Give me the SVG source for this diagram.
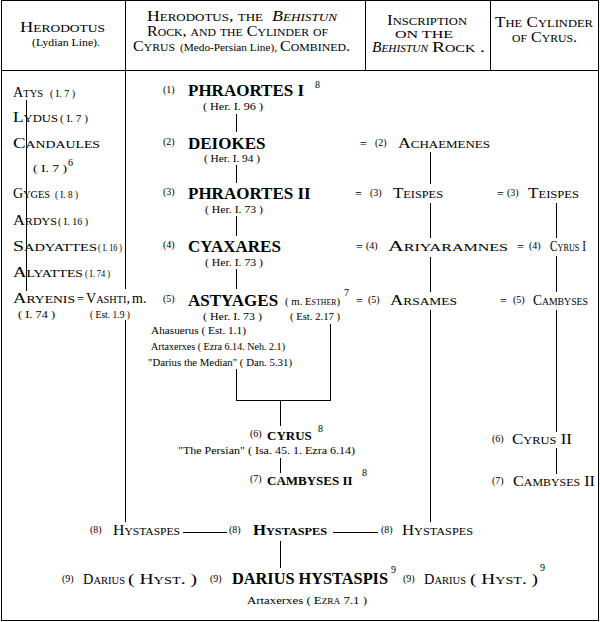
<svg xmlns="http://www.w3.org/2000/svg" width="600" height="622" viewBox="0 0 600 622">
<style>
text{font-family:"Liberation Serif","Times New Roman",serif;fill:#000}
.sc{font-size:15px;font-variant:small-caps}
.it{font-style:italic}
.b{font-size:17px;font-weight:bold}
.b13{font-size:13px;font-weight:bold}
.b16{font-size:16px;font-weight:bold}
.bsc{font-size:15px;font-weight:bold;font-variant:small-caps}
.n{font-size:10px}
.c{font-size:11px}
.sup{font-size:10px}
.eq{font-size:12px}
.ln{fill:none;stroke:#000;stroke-width:1;shape-rendering:crispEdges}
</style>
<rect x="1.5" y="0.5" width="597" height="620" fill="#fff" stroke="#000" stroke-width="1" shape-rendering="crispEdges"/>

<g id="connectors" class="ln">
<path class="ln" d="M0.5 70.5H598.5M125.5 0V289M365.5 0V70M490.5 0V70"/>
<path class="ln" d="M26.5 100V291M125.5 320V522"/>
<path class="ln" d="M236.5 114V132M236.5 165V183M236.5 216V236M236.5 269V289M236.5 369V400.5H330.5V324M280.5 400V426M280.5 458V473"/>
<path class="ln" d="M430.5 152V184M430.5 203V238M430.5 257V292M430.5 310V522"/>
<path class="ln" d="M556.5 203V238M556.5 256V292M556.5 310V432M556.5 448V474"/>
<path class="ln" d="M183 532.5H227M333 532.5H378M280.5 541V568"/>
</g>

<g id="header">
<text class="sc" x="20" y="32" textLength="85" lengthAdjust="spacingAndGlyphs">Herodotus</text>
<text class="c" x="32" y="46" textLength="68" lengthAdjust="spacingAndGlyphs">(Lydian Line).</text>
<text class="sc" x="147" y="21" textLength="116" lengthAdjust="spacingAndGlyphs">Herodotus, the</text>
<text class="sc it" x="272" y="21" textLength="65" lengthAdjust="spacingAndGlyphs">Behistun</text>
<text class="sc" x="147" y="36" textLength="181" lengthAdjust="spacingAndGlyphs">Rock, and the Cylinder of</text>
<text class="sc" x="133" y="51" textLength="42" lengthAdjust="spacingAndGlyphs">Cyrus</text>
<text class="c" x="180" y="51" textLength="97" lengthAdjust="spacingAndGlyphs">(Medo-Persian Line),</text>
<text class="sc" x="280" y="51" textLength="70" lengthAdjust="spacingAndGlyphs">Combined.</text>
<text class="sc" x="387" y="25" textLength="80" lengthAdjust="spacingAndGlyphs">Inscription</text>
<text x="395" y="38" font-size="10.5" textLength="58" lengthAdjust="spacingAndGlyphs">ON THE</text>
<text class="sc it" x="372" y="52" textLength="56" lengthAdjust="spacingAndGlyphs">Behistun</text>
<text class="sc" x="432" y="52" textLength="53" lengthAdjust="spacingAndGlyphs">Rock .</text>
<text class="sc" x="495" y="27" textLength="98" lengthAdjust="spacingAndGlyphs">The Cylinder</text>
<text class="sc" x="512" y="42" textLength="65" lengthAdjust="spacingAndGlyphs">of Cyrus.</text>
</g>

<g id="atys"><text class="sc" x="13" y="97" textLength="30" lengthAdjust="spacingAndGlyphs">Atys</text><text class="c" x="50" y="97" textLength="25" lengthAdjust="spacingAndGlyphs">( I. 7 )</text></g>
<g id="lydus"><text class="sc" x="13" y="122" textLength="45" lengthAdjust="spacingAndGlyphs">Lydus</text><text class="c" x="60" y="122" textLength="28" lengthAdjust="spacingAndGlyphs">( I. 7 )</text></g>
<g id="candaules"><text class="sc" x="13" y="148" textLength="87" lengthAdjust="spacingAndGlyphs">Candaules</text><text class="c" x="33" y="172" textLength="34" lengthAdjust="spacingAndGlyphs">( I. 7 )</text><text class="sup" x="68" y="166">6</text></g>
<g id="gyges"><text class="sc" x="13" y="198" textLength="37" lengthAdjust="spacingAndGlyphs">Gyges</text><text class="c" x="55" y="198" textLength="23" lengthAdjust="spacingAndGlyphs">( I. 8 )</text></g>
<g id="ardys"><text class="sc" x="13" y="225" textLength="44" lengthAdjust="spacingAndGlyphs">Ardys</text><text class="c" x="58" y="225" textLength="30" lengthAdjust="spacingAndGlyphs">( I. 16 )</text></g>
<g id="sadyattes"><text class="sc" x="13" y="251" textLength="84" lengthAdjust="spacingAndGlyphs">Sadyattes</text><text class="c" x="98" y="251" textLength="24" lengthAdjust="spacingAndGlyphs">( I. 16 )</text></g>
<g id="alyattes"><text class="sc" x="13" y="277" textLength="70" lengthAdjust="spacingAndGlyphs">Alyattes</text><text class="c" x="85" y="277" textLength="25" lengthAdjust="spacingAndGlyphs">( I. 74 )</text></g>
<g id="aryenis"><text class="sc" x="13" y="303" textLength="62" lengthAdjust="spacingAndGlyphs">Aryenis</text><text class="eq" x="77" y="303">=</text><text class="c" x="18" y="318" textLength="37" lengthAdjust="spacingAndGlyphs">( I. 74 )</text></g>
<g id="vashti"><text class="sc" x="86" y="303" textLength="44" lengthAdjust="spacingAndGlyphs">Vashti,</text><text x="132" y="303" font-size="14">m.</text><text class="c" x="90" y="318" textLength="40" lengthAdjust="spacingAndGlyphs">( Est. 1.9 )</text></g>

<g id="phraortes1"><text class="n" x="163" y="93">(1)</text><text class="b" x="188" y="96">PHRAORTES I</text><text class="sup" x="315" y="88">8</text><text class="c" x="203" y="110" textLength="60" lengthAdjust="spacingAndGlyphs">( Her. I. 96 )</text></g>
<g id="deiokes"><text class="n" x="163" y="145">(2)</text><text class="b" x="188" y="149">DEIOKES</text><text class="c" x="204" y="162" textLength="56" lengthAdjust="spacingAndGlyphs">( Her. I. 94 )</text></g>
<g id="phraortes2"><text class="n" x="163" y="195">(3)</text><text class="b" x="188" y="199">PHRAORTES II</text><text class="c" x="205" y="213" textLength="58" lengthAdjust="spacingAndGlyphs">( Her. I. 73 )</text></g>
<g id="cyaxares"><text class="n" x="163" y="248">(4)</text><text class="b" x="188" y="252">CYAXARES</text><text class="c" x="205" y="266" textLength="58" lengthAdjust="spacingAndGlyphs">( Her. I. 73 )</text></g>
<g id="astyages"><text class="n" x="163" y="302">(5)</text><text class="b" x="188" y="306">ASTYAGES</text><text class="c" x="285" y="305" textLength="55" lengthAdjust="spacingAndGlyphs">( m. <tspan font-variant="small-caps">Esther</tspan>)</text><text class="sup" x="344" y="296">7</text>
<text class="c" x="203" y="320" textLength="59" lengthAdjust="spacingAndGlyphs">( Her. I. 73 )</text><text class="c" x="290" y="320" textLength="50" lengthAdjust="spacingAndGlyphs">( Est. 2.17 )</text>
<text class="c" x="151" y="334" textLength="95" lengthAdjust="spacingAndGlyphs">Ahasuerus ( Est. 1.1)</text>
<text class="c" x="151" y="350" textLength="134" lengthAdjust="spacingAndGlyphs">Artaxerxes ( Ezra 6.14. Neh. 2.1)</text>
<text class="c" x="148" y="366" textLength="144" lengthAdjust="spacingAndGlyphs">"Darius the Median" ( Dan. 5.31)</text></g>
<g id="cyrus"><text class="n" x="250" y="437">(6)</text><text class="b13" x="267" y="440">CYRUS</text><text class="sup" x="318" y="432">8</text><text class="c" x="178" y="454" textLength="177" lengthAdjust="spacingAndGlyphs">"The Persian" ( Isa. 45. 1.  Ezra 6.14)</text></g>
<g id="cambyses2"><text class="n" x="250" y="482">(7)</text><text class="b13" x="267" y="485">CAMBYSES II</text><text class="sup" x="362" y="476">8</text></g>

<g id="achaemenes"><text class="eq" x="360" y="148">=</text><text class="n" x="375" y="146">(2)</text><text class="sc" x="398" y="148" textLength="92" lengthAdjust="spacingAndGlyphs">Achaemenes</text></g>
<g id="teispes-b"><text class="eq" x="355" y="198">=</text><text class="n" x="370" y="196">(3)</text><text class="sc" x="393" y="198" textLength="50" lengthAdjust="spacingAndGlyphs">Teispes</text></g>
<g id="teispes-c"><text class="eq" x="497" y="198">=</text><text class="n" x="507" y="196">(3)</text><text class="sc" x="528" y="198" textLength="51" lengthAdjust="spacingAndGlyphs">Teispes</text></g>
<g id="ariyaramnes"><text class="eq" x="356" y="251">=</text><text class="n" x="366" y="249">(4)</text><text class="sc" x="388" y="251" textLength="120" lengthAdjust="spacingAndGlyphs">Ariyaramnes</text></g>
<g id="cyrus1"><text class="eq" x="517" y="251">=</text><text class="n" x="529" y="249">(4)</text><text class="sc" x="550" y="251" textLength="36" lengthAdjust="spacingAndGlyphs">Cyrus I</text></g>
<g id="arsames"><text class="eq" x="356" y="305">=</text><text class="n" x="368" y="303">(5)</text><text class="sc" x="390" y="305" textLength="67" lengthAdjust="spacingAndGlyphs">Arsames</text></g>
<g id="cambyses-c"><text class="eq" x="500" y="305">=</text><text class="n" x="513" y="303">(5)</text><text class="sc" x="533" y="305" textLength="55" lengthAdjust="spacingAndGlyphs">Cambyses</text></g>
<g id="cyrus2-c"><text class="n" x="492" y="442">(6)</text><text class="sc" x="512" y="444" textLength="60" lengthAdjust="spacingAndGlyphs">Cyrus II</text></g>
<g id="cambyses2-c"><text class="n" x="492" y="484">(7)</text><text class="sc" x="513" y="486" textLength="82" lengthAdjust="spacingAndGlyphs">Cambyses II</text></g>

<g id="hystaspes-a"><text class="n" x="90" y="533">(8)</text><text class="sc" x="113" y="535" textLength="67" lengthAdjust="spacingAndGlyphs">Hystaspes</text></g>
<g id="hystaspes-b"><text class="n" x="229" y="533">(8)</text><text class="bsc" x="253" y="535" textLength="74" lengthAdjust="spacingAndGlyphs">Hystaspes</text></g>
<g id="hystaspes-c"><text class="n" x="381" y="533">(8)</text><text class="sc" x="402" y="535" textLength="71" lengthAdjust="spacingAndGlyphs">Hystaspes</text></g>

<g id="darius-a"><text class="n" x="62" y="582">(9)</text><text class="sc" x="83" y="584" textLength="42" lengthAdjust="spacingAndGlyphs">Darius</text><text class="sc" x="128" y="584" textLength="69" lengthAdjust="spacingAndGlyphs">( Hyst. )</text></g>
<g id="darius-b"><text class="n" x="210" y="582">(9)</text><text class="b16" x="232" y="584" textLength="156" lengthAdjust="spacingAndGlyphs">DARIUS HYSTASPIS</text><text class="sup" x="391" y="573">9</text><text class="c" x="247" y="604" textLength="120" lengthAdjust="spacingAndGlyphs">Artaxerxes ( <tspan font-variant="small-caps">Ezra</tspan> 7.1 )</text></g>
<g id="darius-c"><text class="n" x="403" y="582">(9)</text><text class="sc" x="424" y="584" textLength="42" lengthAdjust="spacingAndGlyphs">Darius</text><text class="sc" x="470" y="584" textLength="68" lengthAdjust="spacingAndGlyphs">( Hyst. )</text><text class="sup" x="540" y="571">9</text></g>
</svg>
